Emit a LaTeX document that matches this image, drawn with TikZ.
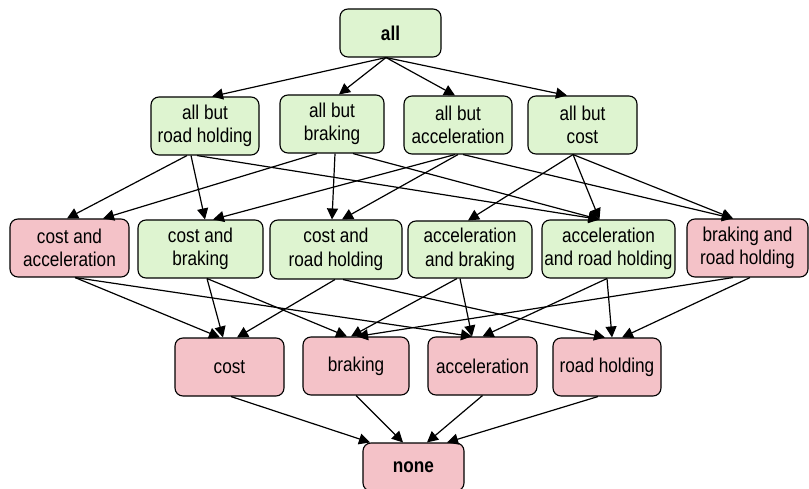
\documentclass[tikz,border=0pt]{standalone}
\usepackage{fontspec}
\setmainfont{Liberation Sans}[FakeStretch=0.86]
\usetikzlibrary{arrows.meta}
\definecolor{gfill}{RGB}{222,244,208}
\definecolor{pfill}{RGB}{244,194,200}
\begin{document}
\begin{tikzpicture}[x=1pt,y=-1pt,
  box/.style={draw=black,line width=1.1pt,rounded corners=8pt,inner sep=0pt,align=center,
    font=\fontsize{20}{23.5}\selectfont},
  gbox/.style={box,fill=gfill},
  pbox/.style={box,fill=pfill},
  edge/.style={line width=1.2pt,-{Triangle[length=11pt,width=11pt]}}]
\useasboundingbox (0,0) rectangle (809,489);
% row 1
\node[gbox,minimum width=101pt,minimum height=48pt,font=\fontsize{20}{23.5}\selectfont\bfseries] (all) at (390.5,33) {all};
% row 2
\node[gbox,minimum width=108pt,minimum height=58pt] (abRH) at (205,126) {all but\\road holding};
\node[gbox,minimum width=104pt,minimum height=58pt] (abB) at (332,124) {all but\\braking};
\node[gbox,minimum width=108pt,minimum height=58pt] (abA) at (458,125) {all but\\acceleration};
\node[gbox,minimum width=109pt,minimum height=58pt] (abC) at (582.5,125) {all but\\cost};
% row 3
\node[pbox,minimum width=119pt,minimum height=58pt] (CA) at (69.5,248) {cost and\\acceleration};
\node[gbox,minimum width=125pt,minimum height=58pt] (CB) at (200.5,249) {cost and\\braking};
\node[gbox,minimum width=132pt,minimum height=59pt] (CRH) at (336,249.5) {cost and\\road holding};
\node[gbox,minimum width=124pt,minimum height=57pt] (AB) at (470,249.5) {acceleration\\and braking};
\node[gbox,minimum width=133pt,minimum height=58pt] (ARH) at (608.5,249) {acceleration\\and road holding};
\node[pbox,minimum width=121pt,minimum height=58pt] (BRH) at (747.5,248) {braking and\\road holding};
% row 4
\node[pbox,minimum width=109pt,minimum height=58pt] (cost) at (229.5,367) {cost};
\node[pbox,minimum width=106pt,minimum height=58pt] (brk) at (356,366) {braking};
\node[pbox,minimum width=109pt,minimum height=58pt] (acc) at (482.5,366) {acceleration};
\node[pbox,minimum width=108pt,minimum height=58pt] (rh) at (607,367) {road holding};
% row 5
\node[pbox,minimum width=101pt,minimum height=48pt,font=\fontsize{20}{23.5}\selectfont\bfseries] (none) at (413.5,467) {none};
% edges row 1 -> row 2
\draw[edge] ([xshift=-4.5pt]all.south) -- ([xshift=7pt]abRH.north);
\draw[edge] ([xshift=-4.5pt]all.south) -- ([xshift=7pt]abB.north);
\draw[edge] ([xshift=-4.5pt]all.south) -- ([xshift=-3pt]abA.north);
\draw[edge] ([xshift=-4.5pt]all.south) -- ([xshift=-15.5pt]abC.north);
% edges row 2 -> row 3
\draw[edge] ([xshift=-18pt]abRH.south) -- ([xshift=-2.5pt]CA.north);
\draw[edge] ([xshift=-14pt]abRH.south) -- ([xshift=4.5pt]CB.north);
\draw[edge] ([xshift=-8pt]abRH.south) -- ([xshift=-9pt]ARH.north);
\draw[edge] ([xshift=-15pt]abB.south) -- ([xshift=33.5pt]CA.north);
\draw[edge] ([xshift=3pt]abB.south) -- ([xshift=-4pt]CRH.north);
\draw[edge] ([xshift=21pt]abB.south) -- ([xshift=-9pt]ARH.north);
\draw[edge] ([xshift=-3pt]abA.south) -- ([xshift=12.5pt]CB.north);
\draw[edge] ([xshift=0pt]abA.south) -- ([xshift=6pt]CRH.north);
\draw[edge] ([xshift=5pt]abA.south) -- ([xshift=-14.5pt]BRH.north);
\draw[edge] ([xshift=-9.5pt]abC.south) -- ([xshift=-2pt]AB.north);
\draw[edge] ([xshift=-9.5pt]abC.south) -- ([xshift=-9pt]ARH.north);
\draw[edge] ([xshift=-9.5pt]abC.south) -- ([xshift=-14.5pt]BRH.north);
% edges row 3 -> row 4
\draw[edge] ([xshift=5.5pt]CA.south) -- ([xshift=-9.5pt]cost.north);
\draw[edge] ([xshift=5.5pt]CA.south) -- ([xshift=-10.5pt]acc.north);
\draw[edge] ([xshift=6.5pt]CB.south) -- ([xshift=-6.5pt]cost.north);
\draw[edge] ([xshift=6.5pt]CB.south) -- ([xshift=-9pt]brk.north);
\draw[edge] ([xshift=-1pt]CRH.south) -- ([xshift=7.5pt]cost.north);
\draw[edge] ([xshift=7pt]CRH.south) -- ([xshift=-2pt]rh.north);
\draw[edge] ([xshift=-13pt]AB.south) -- ([xshift=-5pt]brk.north);
\draw[edge] ([xshift=-10pt]AB.south) -- ([xshift=-10.5pt]acc.north);
\draw[edge] ([xshift=-1.5pt]ARH.south) -- ([xshift=0pt]acc.north);
\draw[edge] ([xshift=-1.5pt]ARH.south) -- ([xshift=5pt]rh.north);
\draw[edge] ([xshift=-14.5pt]BRH.south) -- ([xshift=1pt]brk.north);
\draw[edge] ([xshift=2.5pt]BRH.south) -- ([xshift=15pt]rh.north);
% edges row 4 -> none
\draw[edge] ([xshift=1.5pt]cost.south) -- ([xshift=-43.5pt]none.north);
\draw[edge] (brk.south) -- ([xshift=-10.5pt]none.north);
\draw[edge] (acc.south) -- ([xshift=13.5pt]none.north);
\draw[edge] ([xshift=-9pt]rh.south) -- ([xshift=33.5pt]none.north);
\end{tikzpicture}
\end{document}
